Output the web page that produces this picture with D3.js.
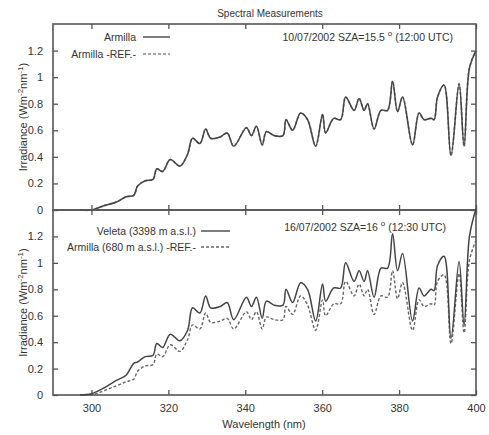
<!DOCTYPE html>
<html><head><meta charset="utf-8">
<script src="https://cdn.jsdelivr.net/npm/d3@7"></script>
<style>
body{margin:0;background:#fff;}
text{font-family:"Liberation Sans",Arial,sans-serif;fill:#333;}
</style></head>
<body><svg id="c" width="489" height="435"></svg>
<script>
const wavelengths = [297,300,303,306.5,309,311,312,314,316,317,318.5,320.5,323,325,326.3,328.2,329.7,331,333.5,335.3,337,340.3,341.6,342.9,344.4,345.5,347.5,349.8,350.6,352.3,354.4,356.2,358.3,360.1,360.9,363,364.8,366.1,368.3,369.6,370.9,371.8,373.5,375.3,377,378.3,379.6,380.9,383.5,385.2,386.5,388.3,389.1,390,391.7,393.5,395.6,396.9,398.3,400];
const armillaTop = [0,0,0.03,0.06,0.10,0.11,0.18,0.22,0.23,0.31,0.29,0.38,0.33,0.42,0.54,0.50,0.61,0.54,0.55,0.58,0.48,0.62,0.56,0.63,0.49,0.59,0.56,0.56,0.68,0.60,0.73,0.68,0.48,0.72,0.58,0.69,0.68,0.85,0.75,0.84,0.75,0.80,0.61,0.75,0.75,0.97,0.74,0.85,0.49,0.73,0.68,0.69,0.68,0.85,0.94,0.41,0.95,0.48,1.07,1.20];
const armillaRefTop = [0,0,0.03,0.06,0.10,0.11,0.18,0.22,0.23,0.31,0.29,0.38,0.33,0.42,0.54,0.50,0.61,0.54,0.55,0.58,0.48,0.62,0.56,0.63,0.49,0.59,0.56,0.56,0.68,0.60,0.73,0.68,0.48,0.72,0.58,0.69,0.68,0.85,0.75,0.84,0.75,0.80,0.61,0.75,0.75,0.97,0.74,0.85,0.49,0.73,0.68,0.69,0.68,0.85,0.94,0.41,0.95,0.48,1.07,1.20];
const veleta = [0,0.01,0.05,0.11,0.15,0.24,0.25,0.29,0.30,0.39,0.36,0.46,0.41,0.49,0.66,0.62,0.75,0.66,0.67,0.70,0.57,0.74,0.67,0.74,0.58,0.71,0.68,0.68,0.80,0.70,0.85,0.80,0.56,0.84,0.71,0.81,0.81,1.00,0.86,0.94,0.86,0.94,0.74,0.96,0.96,1.22,0.94,1.07,0.56,0.81,0.75,0.80,0.79,0.98,1.05,0.43,1.01,0.53,1.20,1.41];
const armillaBottom = [0,0,0.03,0.07,0.10,0.12,0.18,0.22,0.23,0.31,0.29,0.38,0.33,0.42,0.53,0.50,0.62,0.55,0.56,0.58,0.50,0.63,0.57,0.63,0.50,0.59,0.57,0.57,0.67,0.61,0.75,0.68,0.49,0.72,0.60,0.69,0.69,0.86,0.75,0.84,0.75,0.80,0.61,0.75,0.74,0.94,0.73,0.85,0.49,0.72,0.67,0.69,0.68,0.86,0.91,0.39,0.92,0.47,1.02,1.17];
const xTicks = [300,320,340,360,380,400];
const yTicks = [0,0.2,0.4,0.6,0.8,1,1.2];
const yTickLabels = ["0","0.2","0.4","0.6","0.8","1","1.2"];

const svg = d3.select("#c");
const L=53, R=476, T1=24, B1=210, T2=210, B2=395;
const x = d3.scaleLinear().domain([290,400]).range([L,R]);
const y1 = d3.scaleLinear().domain([0,1.4]).range([B1,T1]);
const y2 = d3.scaleLinear().domain([0,1.4]).range([B2,T2]);
const col="#444";

svg.append("text").attr("x",270).attr("y",17).attr("text-anchor","middle").attr("font-size",10).text("Spectral Measurements");

function panel(y, top, bottom, series, legend, annot, showX){
  const g = svg.append("g");
  const axB = d3.axisBottom(x).tickValues(xTicks).tickSize(-5).tickPadding(9).tickFormat(showX? d3.format("d") : "");
  const axT = d3.axisTop(x).tickValues(xTicks).tickSize(-5).tickFormat("");
  const axL = d3.axisLeft(y).tickValues(yTicks).tickSize(-5).tickPadding(10).tickFormat((d,i)=>yTickLabels[i]);
  const axR = d3.axisRight(y).tickValues(yTicks).tickSize(-5).tickFormat("");
  [[axB,`translate(0,${bottom})`],[axT,`translate(0,${top})`],[axL,`translate(${L},0)`],[axR,`translate(${R},0)`]].forEach(([a,t])=>{
    const ag=g.append("g").attr("transform",t).call(a);
    ag.select(".domain").remove();
    ag.selectAll("line").attr("stroke","#555").attr("stroke-width",1.3);
    ag.selectAll("text").attr("font-size",11).attr("fill","#333").style("font-family","Liberation Sans, Arial, sans-serif");
  });
  g.append("rect").attr("x",L).attr("y",top).attr("width",R-L).attr("height",bottom-top)
    .attr("fill","none").attr("stroke","#555").attr("stroke-width",1.6);
  const line = d3.line().x((d,i)=>x(wavelengths[i])).y(d=>y(d)).curve(d3.curveCatmullRom.alpha(0.5));
  series.forEach(s=>{
    g.append("path").datum(s.values).attr("d",line).attr("fill","none")
      .attr("stroke",s.color).attr("stroke-width",s.w).attr("stroke-dasharray",s.dash||null)
      .attr("stroke-linejoin","round");
  });
  legend.forEach(l=>{
    g.append("text").attr("x",l.tx).attr("y",l.y+4).attr("text-anchor","end").attr("font-size",10.5).text(l.label);
    g.append("line").attr("x1",l.x1).attr("x2",l.x2).attr("y1",l.y).attr("y2",l.y)
      .attr("stroke",l.color).attr("stroke-width",l.w).attr("stroke-dasharray",l.dash||null);
  });
  const at = g.append("text").attr("x",annot.x).attr("y",annot.y).attr("text-anchor","end").attr("font-size",10.5);
  at.append("tspan").text(annot.a);
  at.append("tspan").attr("dy",-5).attr("font-size",8).text("o");
  at.append("tspan").attr("dy",5).text(annot.b);
  const cy=(top+bottom)/2;
  const yl = g.append("text").attr("transform",`translate(27,${cy}) rotate(-90)`).attr("text-anchor","middle").attr("font-size",11);
  yl.append("tspan").text("Irradiance (Wm");
  yl.append("tspan").attr("dy",-4).attr("font-size",8).text("-2");
  yl.append("tspan").attr("dy",4).text("nm");
  yl.append("tspan").attr("dy",-4).attr("font-size",8).text("-1");
  yl.append("tspan").attr("dy",4).text(")");
}

panel(y1,T1,B1,[
  {values:armillaRefTop,color:"#888",w:1.7,dash:"3,2"},
  {values:armillaTop,color:col,w:1.5}
],[
  {label:"Armilla",tx:136,x1:143,x2:170,y:37,color:col,w:1.4},
  {label:"Armilla -REF.-",tx:136,x1:143,x2:170,y:54,color:"#888",w:1.4,dash:"3,2"}
],{a:"10/07/2002 SZA=15.5 ",b:" (12:00 UTC)",x:453,y:41},false);

panel(y2,T2,B2,[
  {values:armillaBottom,color:"#666",w:1.4,dash:"3,2"},
  {values:veleta,color:col,w:1.5}
],[
  {label:"Veleta (3398 m a.s.l.)",tx:196,x1:201,x2:230,y:231,color:col,w:1.4},
  {label:"Armilla (680 m a.s.l.) -REF.-",tx:196,x1:201,x2:230,y:247,color:"#666",w:1.3,dash:"3,2"}
],{a:"16/07/2002 SZA=16 ",b:" (12:30 UTC)",x:446,y:231},true);

svg.append("text").attr("x",264).attr("y",428).attr("text-anchor","middle").attr("font-size",11).text("Wavelength (nm)");
</script></body></html>
